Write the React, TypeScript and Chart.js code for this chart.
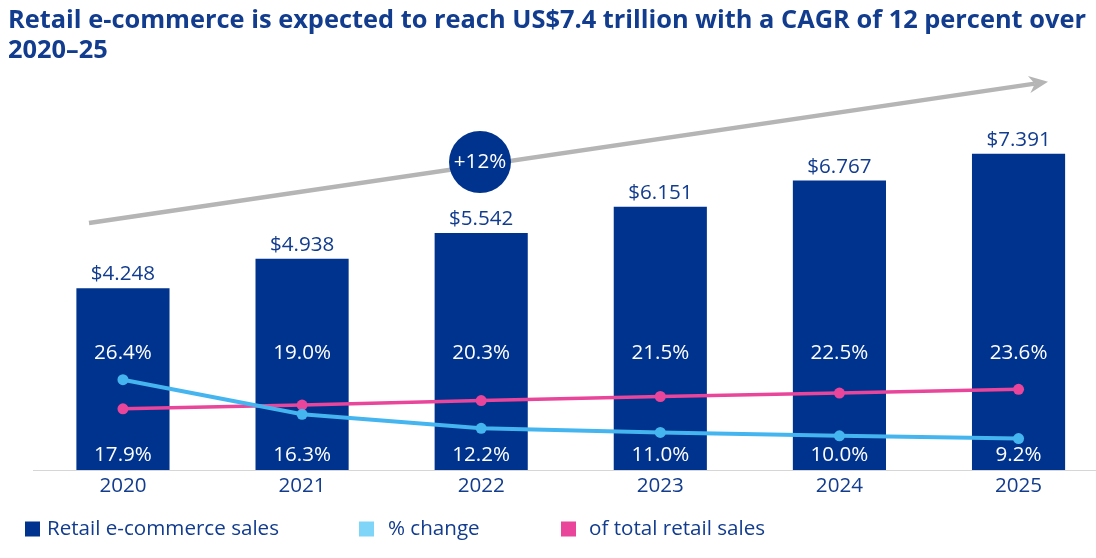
import React, { useEffect, useRef } from "react";
import { Chart, registerables } from "chart.js";

Chart.register(...registerables);

// ---- data ----
const years = ["2020", "2021", "2022", "2023", "2024", "2025"];
const ecommerceSales = [4.248, 4.938, 5.542, 6.151, 6.767, 7.391]; // US$ trillion
const pctChange = [26.4, 16.3, 12.2, 11.0, 10.0, 9.2];
const shareOfTotalRetail = [17.9, 19.0, 20.3, 21.5, 22.5, 23.6];
const titleLines = [
  "Retail e-commerce is expected to reach US$7.4 trillion with a CAGR of 12 percent over",
  "2020\u201325",
];
const cagrLabel = "+12%";
const legendItems = ["Retail e-commerce sales", "% change", "of total retail sales"];

// ---- styles ----
const NAVY = "#00338D";
const TEXT_NAVY = "#123C8E";
const LIGHT_BLUE = "#45B5EF";
const LIGHT_BLUE_KEY = "#7FD5F7";
const PINK = "#E8459B";
const GRAY = "#B5B5B5";
const FONT = "'Open Sans', 'Noto Sans', sans-serif";
const FS = 20.6;

export default function App() {
  const ref = useRef<HTMLCanvasElement>(null);

  useEffect(() => {
    document.body.style.margin = "0";
    document.body.style.overflow = "hidden";
    const canvas = ref.current!;

    const overlay = {
      id: "overlay",
      afterDatasetsDraw(chart: any) {
        const ctx = chart.ctx as CanvasRenderingContext2D;
        const x = chart.scales.x;
        const y = chart.scales.y;
        const base = y.getPixelForValue(0);
        ctx.save();
        ctx.font = `${FS}px ${FONT}`;
        ctx.textAlign = "center";
        years.forEach((_, i) => {
          const cx = x.getPixelForValue(i);
          const top = y.getPixelForValue(ecommerceSales[i]);
          // value above bar
          ctx.fillStyle = TEXT_NAVY;
          ctx.textBaseline = "alphabetic";
          ctx.fillText("$" + ecommerceSales[i].toFixed(3), cx, top - 8);
          // in-bar labels
          const hi = Math.max(pctChange[i], shareOfTotalRetail[i]);
          const lo = Math.min(pctChange[i], shareOfTotalRetail[i]);
          ctx.fillStyle = "#FFFFFF";
          ctx.textBaseline = "middle";
          ctx.fillText(hi.toFixed(1) + "%", cx, base - 117);
          ctx.fillText(lo.toFixed(1) + "%", cx, base - 15);
        });
        ctx.restore();
      },
      afterDraw(chart: any) {
        const ctx = chart.ctx as CanvasRenderingContext2D;
        ctx.save();
        // title
        ctx.fillStyle = TEXT_NAVY;
        ctx.font = `bold 25.4px ${FONT}`;
        ctx.textAlign = "left";
        ctx.textBaseline = "alphabetic";
        ctx.fillText(titleLines[0], 8, 28);
        ctx.fillText(titleLines[1], 8, 58);

        // growth arrow
        const x0 = 89, y0 = 223, x1 = 1048, y1 = 81.7;
        const ang = Math.atan2(y1 - y0, x1 - x0);
        const headLen = 19;
        ctx.strokeStyle = GRAY;
        ctx.fillStyle = GRAY;
        ctx.lineWidth = 4.5;
        ctx.beginPath();
        ctx.moveTo(x0, y0);
        ctx.lineTo(x1 - headLen * 0.7 * Math.cos(ang), y1 - headLen * 0.7 * Math.sin(ang));
        ctx.stroke();
        ctx.beginPath();
        ctx.moveTo(x1, y1);
        ctx.lineTo(x1 - headLen * Math.cos(ang) + 8.5 * Math.sin(ang), y1 - headLen * Math.sin(ang) - 8.5 * Math.cos(ang));
        ctx.lineTo(x1 - headLen * 0.7 * Math.cos(ang), y1 - headLen * 0.7 * Math.sin(ang));
        ctx.lineTo(x1 - headLen * Math.cos(ang) - 8.5 * Math.sin(ang), y1 - headLen * Math.sin(ang) + 8.5 * Math.cos(ang));
        ctx.closePath();
        ctx.fill();

        // CAGR badge
        ctx.fillStyle = NAVY;
        ctx.beginPath();
        ctx.arc(480, 162, 31, 0, Math.PI * 2);
        ctx.fill();
        ctx.fillStyle = "#FFFFFF";
        ctx.font = `${FS}px ${FONT}`;
        ctx.textAlign = "center";
        ctx.textBaseline = "middle";
        ctx.fillText(cagrLabel, 480, 162);

        // legend
        const keyColors = [NAVY, LIGHT_BLUE_KEY, PINK];
        const keyX = [25, 359, 561];
        const textX = [47, 388, 589];
        const ly = 529;
        ctx.font = `${FS}px ${FONT}`;
        ctx.textAlign = "left";
        ctx.textBaseline = "middle";
        legendItems.forEach((t, i) => {
          ctx.fillStyle = keyColors[i];
          ctx.fillRect(keyX[i], ly - 7.5, 15, 15);
          ctx.fillStyle = TEXT_NAVY;
          ctx.fillText(t, textX[i], ly);
        });
        ctx.restore();
      },
    };

    const chart = new Chart(canvas, {
      type: "bar",
      data: {
        labels: years,
        datasets: [
          {
            type: "line",
            label: legendItems[1],
            data: pctChange,
            yAxisID: "y1",
            borderColor: LIGHT_BLUE,
            backgroundColor: LIGHT_BLUE,
            borderWidth: 4,
            pointRadius: 5.5,
            pointBorderWidth: 0,
            pointBackgroundColor: LIGHT_BLUE,
            tension: 0,
            order: 0,
          },
          {
            type: "line",
            label: legendItems[2],
            data: shareOfTotalRetail,
            yAxisID: "y1",
            borderColor: PINK,
            backgroundColor: PINK,
            borderWidth: 3.5,
            pointRadius: 5.5,
            pointBorderWidth: 0,
            pointBackgroundColor: PINK,
            tension: 0,
            order: 1,
          },
          {
            type: "bar",
            label: legendItems[0],
            data: ecommerceSales,
            yAxisID: "y",
            backgroundColor: NAVY,
            borderWidth: 0,
            categoryPercentage: 1,
            barPercentage: 0.52,
            order: 2,
          },
        ],
      } as any,
      options: {
        responsive: false,
        animation: false,
        layout: { padding: { left: 33.4, right: 11.9, top: 85, bottom: 56 } },
        plugins: {
          legend: { display: false },
          title: { display: false },
          tooltip: { enabled: false },
        },
        scales: {
          x: {
            offset: true,
            grid: { display: false, drawTicks: false },
            border: { display: true, color: "#D6D6D6", width: 1, dash: [2, 1] },
            ticks: {
              color: TEXT_NAVY,
              font: { family: FONT, size: FS, lineHeight: 24 / FS },
              padding: 4,
            },
          },
          y: { display: false, min: 0, max: 9 },
          y1: { display: false, min: 0, max: 112.6 },
        },
      } as any,
      plugins: [overlay],
    });
    return () => chart.destroy();
  }, []);

  return (
    <div style={{ position: "relative", width: 1096, height: 558, overflow: "hidden" }}>
      <canvas
        ref={ref}
        width={1120}
        height={558}
        style={{ position: "absolute", left: 0, top: 0, width: 1120, height: 558 }}
      />
    </div>
  );
}
